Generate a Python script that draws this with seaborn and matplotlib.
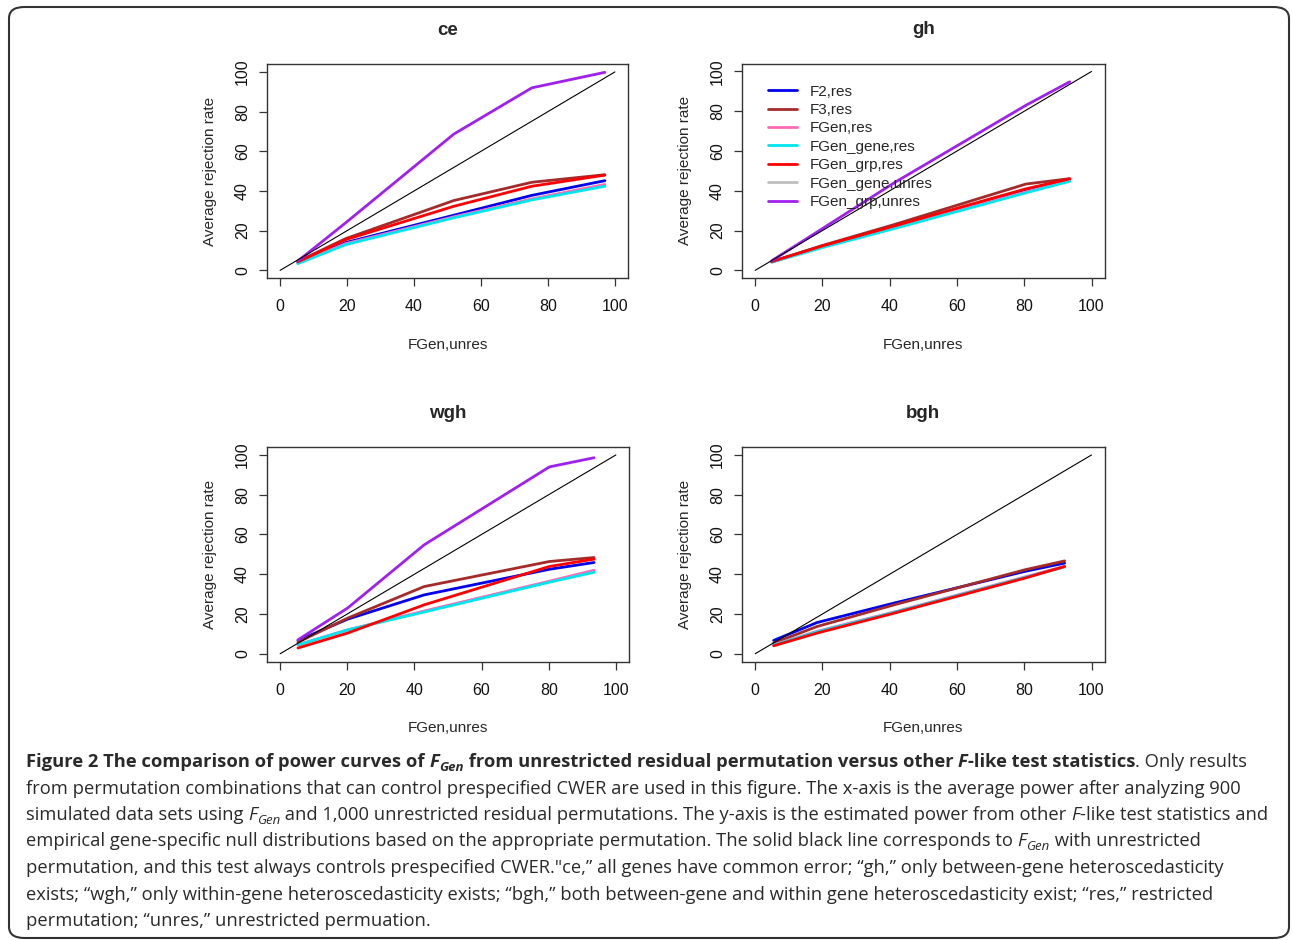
import pandas as pd
import seaborn as sns
import matplotlib.pyplot as plt
from matplotlib.lines import Line2D
from matplotlib.patches import FancyBboxPatch

# series shown in the panels (legend order)
series_names = ["F2,res", "F3,res", "FGen,res", "FGen_gene,res",
                "FGen_grp,res", "FGen_gene,unres", "FGen_grp,unres"]
series_colors = ["#0000EE", "#A52A2A", "#FF69B4", "#00E5EE",
                 "#FF0000", "#BEBEBE", "#A020F0"]

# ce
ce_x = [5.3, 19.6, 51.9, 75.2, 97.0]
ce_f2 = [4.0, 14.0, 27.8, 37.8, 45.2]
ce_f3 = [4.5, 16.0, 35.2, 44.4, 48.2]
ce_fgen = [3.8, 13.5, 27.0, 36.0, 43.3]
ce_fgen_gene = [3.4, 13.0, 26.5, 35.5, 42.4]
ce_fgen_grp = [4.3, 15.5, 32.3, 42.4, 48.0]
ce_fgen_grp_unres = [4.7, 24.0, 68.7, 92.0, 99.8]

# gh
gh_x = [4.9, 20.0, 41.3, 80.5, 93.5]
gh_f2 = [4.3, 12.0, 21.8, 40.0, 45.2]
gh_f3 = [4.4, 12.5, 23.0, 43.4, 46.1]
gh_fgen = [4.2, 11.8, 21.5, 39.5, 45.0]
gh_fgen_gene = [4.1, 11.5, 21.0, 39.0, 44.8]
gh_fgen_grp = [4.4, 12.3, 22.3, 41.0, 46.0]
gh_fgen_grp_unres = [4.8, 21.0, 44.0, 83.0, 94.8]

# wgh
wgh_x = [5.3, 20.1, 42.9, 80.2, 93.5]
wgh_f2 = [6.7, 17.4, 29.6, 42.5, 45.9]
wgh_f3 = [5.8, 17.9, 33.8, 46.4, 48.4]
wgh_fgen = [4.5, 12.0, 21.5, 36.5, 42.0]
wgh_fgen_gene = [4.5, 12.0, 21.0, 36.0, 41.0]
wgh_fgen_grp = [2.9, 10.4, 24.6, 43.9, 47.6]
wgh_fgen_grp_unres = [7.0, 23.0, 54.8, 94.0, 98.6]

# bgh (no unrestricted grp curve)
bgh_x = [5.5, 18.4, 41.3, 80.1, 92.0]
bgh_f2 = [6.7, 15.7, 25.5, 41.4, 45.6]
bgh_f3 = [5.4, 13.7, 24.6, 42.2, 46.7]
bgh_fgen = [4.5, 11.3, 21.0, 38.6, 44.0]
bgh_fgen_gene = [4.3, 11.0, 20.8, 38.3, 43.6]
bgh_fgen_grp = [4.0, 10.4, 20.4, 38.0, 43.9]

# reference line: FGen with unrestricted permutation
diag_x = [0, 100]
diag_y = [0, 100]

x_ticks = [0, 20, 40, 60, 80, 100]


def make_df(x, curves):
    rows = []
    for name, ys in curves.items():
        for xv, yv in zip(x, ys):
            rows.append({"x": xv, "y": yv, "series": name})
    return pd.DataFrame(rows)


panels = [
    ("ce", make_df(ce_x, {"F2,res": ce_f2, "F3,res": ce_f3, "FGen,res": ce_fgen,
                          "FGen_gene,res": ce_fgen_gene, "FGen_grp,res": ce_fgen_grp,
                          "FGen_grp,unres": ce_fgen_grp_unres})),
    ("gh", make_df(gh_x, {"F2,res": gh_f2, "F3,res": gh_f3, "FGen,res": gh_fgen,
                          "FGen_gene,res": gh_fgen_gene, "FGen_grp,res": gh_fgen_grp,
                          "FGen_grp,unres": gh_fgen_grp_unres})),
    ("wgh", make_df(wgh_x, {"F2,res": wgh_f2, "F3,res": wgh_f3, "FGen,res": wgh_fgen,
                            "FGen_gene,res": wgh_fgen_gene, "FGen_grp,res": wgh_fgen_grp,
                            "FGen_grp,unres": wgh_fgen_grp_unres})),
    ("bgh", make_df(bgh_x, {"F2,res": bgh_f2, "F3,res": bgh_f3, "FGen,res": bgh_fgen,
                            "FGen_gene,res": bgh_fgen_gene, "FGen_grp,res": bgh_fgen_grp})),
]

sns.set_style("white")
plt.rcParams["font.family"] = ["Liberation Sans", "DejaVu Sans"]

W, H = 1292, 940
fig = plt.figure(figsize=(W / 100, H / 100), dpi=100)
palette = dict(zip(series_names, series_colors))

# axes boxes in pixels: left, top, right, bottom
boxes = [(266.7, 64, 628.3, 278.3), (741.7, 63.5, 1105, 278.3),
         (266.7, 447, 629.3, 661.7), (741.7, 447, 1105, 661.7)]

axes = []
for (title, df), (l, t, r, b) in zip(panels, boxes):
    ax = fig.add_axes([l / W, 1 - b / H, (r - l) / W, (b - t) / H])
    order = [s for s in series_names if s in df["series"].unique()]
    sns.lineplot(data=df, x="x", y="y", hue="series", hue_order=order,
                 palette=palette, lw=2, legend=False, estimator=None,
                 sort=False, ax=ax)
    sns.lineplot(x=diag_x, y=diag_y, color="black", lw=0.8, ax=ax)
    ax.set_xlim(-4, 104)
    ax.set_ylim(-4, 104)
    ax.set_xticks(x_ticks)
    ax.set_yticks(x_ticks)
    ax.tick_params(axis="both", direction="out", length=6, width=0.9,
                   color="#333333", labelsize=11.5, labelcolor="#111111", bottom=True, left=True)
    ax.tick_params(axis="x", pad=9)
    ax.tick_params(axis="y", pad=6, labelrotation=90)
    for lab in ax.get_yticklabels():
        lab.set_va("center")
    for sp in ax.spines.values():
        sp.set_visible(True)
        sp.set_color("#333333")
        sp.set_linewidth(1.0)
    ax.set_xlabel("FGen,unres", fontsize=11, labelpad=17)
    ax.set_ylabel("Average rejection rate", fontsize=11, labelpad=13)
    ax.set_title(title, fontsize=13.5, fontweight="bold", pad=21)
    axes.append(ax)

handles = [Line2D([], [], color=c, lw=2) for c in series_colors]
axes[1].legend(handles, series_names, loc="upper left", bbox_to_anchor=(0.072, 0.902),
               frameon=False, fontsize=11, handlelength=1.9, handletextpad=0.85,
               labelspacing=0.29, borderpad=0, borderaxespad=0)

# rounded frame around the whole figure
frame = FancyBboxPatch((9 / W, 1 - 938 / H), 1280 / W, 931 / H,
                       boxstyle="round,pad=0,rounding_size=0.012",
                       transform=fig.transFigure, fill=False, ec="#333333", lw=1.5)
fig.patches.append(frame)

# caption, written piece by piece to mix bold / italic / subscript
renderer = fig.canvas.get_renderer()
cap_font = ["Open Sans", "DejaVu Sans"]
cap_size = 13.25


def rich_line(x_px, base_px, parts):
    x = x_px
    for s, weight, style, sub in parts:
        size = cap_size * (0.72 if sub else 1.0)
        y = base_px + (4 if sub else 0)
        t = fig.text(x / W, 1 - y / H, s, fontsize=size, fontweight=weight,
                     fontstyle=style, family=cap_font, va="baseline", ha="left",
                     color="#2a2a2a")
        x += t.get_window_extent(renderer=renderer).width


B, N = "bold", "normal"
I, R = "italic", "normal"
caption = [
    [("Figure 2 The comparison of power curves of ", B, R, 0), ("F", B, I, 0), ("Gen", B, I, 1),
     (" from unrestricted residual permutation versus other ", B, R, 0), ("F", B, I, 0),
     ("-like test statistics", B, R, 0), (". Only results", N, R, 0)],
    [("from permutation combinations that can control prespecified CWER are used in this figure. "
      "The x-axis is the average power after analyzing 900", N, R, 0)],
    [("simulated data sets using ", N, R, 0), ("F", N, I, 0), ("Gen", N, I, 1),
     (" and 1,000 unrestricted residual permutations. The y-axis is the estimated power from other ", N, R, 0),
     ("F", N, I, 0), ("-like test statistics and", N, R, 0)],
    [("empirical gene-specific null distributions based on the appropriate permutation. "
      "The solid black line corresponds to ", N, R, 0), ("F", N, I, 0), ("Gen", N, I, 1),
     (" with unrestricted", N, R, 0)],
    [("permutation, and this test always controls prespecified CWER.\"ce,\u201d all genes have common error; "
      "\u201cgh,\u201d only between-gene heteroscedasticity", N, R, 0)],
    [("exists; \u201cwgh,\u201d only within-gene heteroscedasticity exists; \u201cbgh,\u201d both between-gene "
      "and within gene heteroscedasticity exist; \u201cres,\u201d restricted", N, R, 0)],
    [("permutation; \u201cunres,\u201d unrestricted permuation.", N, R, 0)],
]
for i, parts in enumerate(caption):
    rich_line(26, 767 + i * 26.5, parts)

fig.savefig("out.png", dpi=100)
